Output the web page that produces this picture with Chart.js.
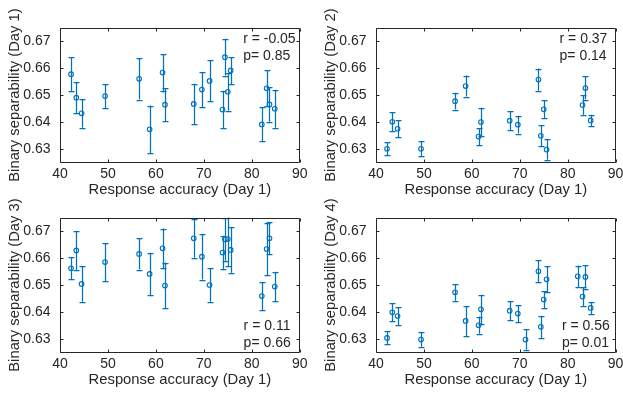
<!DOCTYPE html>
<html><head><meta charset="utf-8">
<script src="https://cdn.jsdelivr.net/npm/chart.js@4/dist/chart.umd.min.js"></script>
<style>
html,body{margin:0;padding:0;background:#fff;}
#wrap{position:relative;width:623px;height:393px;overflow:hidden;background:#fff;}
canvas{position:absolute;}
</style></head><body>
<div id="wrap">
<canvas id="c1"></canvas><canvas id="c2"></canvas><canvas id="c3"></canvas><canvas id="c4"></canvas>
</div>
<script>
// ---- data ----
const accuracy = [42.3, 43.4, 44.5, 49.4, 56.5, 58.7, 61.4, 61.9, 67.9, 69.6, 71.2, 73.9, 74.4, 75.0, 75.6, 82.1, 83.1, 83.7, 84.8];
const sepDay1 = [0.6577, 0.6490, 0.6432, 0.6496, 0.6560, 0.6373, 0.6583, 0.6464, 0.6467, 0.6520, 0.6552, 0.6446, 0.6640, 0.6512, 0.6591, 0.6391, 0.6525, 0.6465, 0.6449];
const errDay1 = [0.0063, 0.0057, 0.0053, 0.0044, 0.0077, 0.0088, 0.0068, 0.0062, 0.0075, 0.0065, 0.0076, 0.0070, 0.0068, 0.0070, 0.0050, 0.0063, 0.0066, 0.0064, 0.0070];
const sepDay2 = [0.6301, 0.6401, 0.6375, 0.6301, 0.6477, 0.6533, 0.6346, 0.6400, 0.6405, 0.6390, null, 0.6557, 0.6349, 0.6447, 0.6298, null, 0.6463, 0.6526, 0.6406];
const errDay2 = [0.0025, 0.0035, 0.0032, 0.0027, 0.0031, 0.0039, 0.0032, 0.0053, 0.0035, 0.0033, null, 0.0041, 0.0039, 0.0033, 0.0038, null, 0.0036, 0.0043, 0.0021];
const sepDay3 = [0.6562, 0.6628, 0.6504, 0.6585, 0.6615, 0.6541, 0.6636, 0.6498, 0.6673, 0.6605, 0.6500, 0.6620, 0.6669, 0.6670, 0.6630, 0.6459, 0.6633, 0.6673, 0.6494];
const errDay3 = [0.0040, 0.0073, 0.0066, 0.0070, 0.0058, 0.0078, 0.0073, 0.0085, 0.0072, 0.0085, 0.0062, 0.0062, 0.0079, 0.0101, 0.0085, 0.0052, 0.0096, 0.0059, 0.0055];
const sepDay4 = [0.6304, 0.6399, 0.6385, 0.6298, 0.6473, 0.6367, 0.6351, 0.6410, 0.6405, 0.6394, 0.6298, 0.6551, 0.6345, 0.6446, 0.6521, 0.6532, 0.6457, 0.6530, 0.6415];
const errDay4 = [0.0024, 0.0034, 0.0033, 0.0027, 0.0031, 0.0056, 0.0032, 0.0054, 0.0036, 0.0032, 0.0038, 0.0041, 0.0041, 0.0032, 0.0048, 0.0040, 0.0036, 0.0043, 0.0022];
const xTicks = [40, 50, 60, 70, 80, 90];
const xTickLabels = ['40', '50', '60', '70', '80', '90'];
const yTicks = [0.63, 0.64, 0.65, 0.66, 0.67];
const yTickLabels = ['0.63', '0.64', '0.65', '0.66', '0.67'];
const xTitle = 'Response accuracy (Day 1)';
const yTitles = ['Binary separability (Day 1)', 'Binary separability (Day 2)', 'Binary separability (Day 3)', 'Binary separability (Day 4)'];
const statR = ['r = -0.05', 'r = 0.37', 'r = 0.11', 'r = 0.56'];
const statP = ['p= 0.85', 'p= 0.14', 'p= 0.66', 'p= 0.01'];

// ---- style / layout ----
const BLUE = '#0072BD';
const TEXT = '#262626';
const FONT = '"Liberation Sans", Arial, Helvetica, sans-serif';
const panels = [
  {id:'c1', left:0,   top:0,   w:311, h:200, yAxisW:60, padTop:27.5, padRight:11.3, xAxisH:37.5, xTitlePad:1.1, yTitlePad:6.4,  stat:[78.2, 0.6706, 0.6644]},
  {id:'c2', left:310, top:0,   w:313, h:200, yAxisW:66, padTop:27.5, padRight:7.4,  xAxisH:37.5, xTitlePad:1.1, yTitlePad:12.4, stat:[78.3, 0.6706, 0.6644]},
  {id:'c3', left:0,   top:190, w:311, h:203, yAxisW:60, padTop:27.5, padRight:11.3, xAxisH:40.5, xTitlePad:4.4, yTitlePad:6.4,  stat:[78.3, 0.6346, 0.6286]},
  {id:'c4', left:310, top:190, w:313, h:203, yAxisW:66, padTop:27.5, padRight:7.4,  xAxisH:40.5, xTitlePad:4.4, yTitlePad:12.4, stat:[78.8, 0.6346, 0.6286]}
];
const seps = [sepDay1, sepDay2, sepDay3, sepDay4];
const errs = [errDay1, errDay2, errDay3, errDay4];

const decorPlugin = {
  id: 'decor',
  beforeDatasetsDraw(chart) {
    const ctx = chart.ctx, ca = chart.chartArea;
    const xs = chart.scales.x, ys = chart.scales.y;
    const ds = chart.data.datasets[0];
    ctx.save();
    ctx.beginPath();
    ctx.rect(ca.left, ca.top, ca.right - ca.left, ca.bottom - ca.top);
    ctx.clip();
    ctx.strokeStyle = BLUE;
    ctx.lineWidth = 1.25;
    ds.data.forEach((p, i) => {
      const e = ds.errors[i];
      const px = Math.round(xs.getPixelForValue(p.x)) + 0.5;
      const y1 = ys.getPixelForValue(p.y + e);
      const y2 = ys.getPixelForValue(p.y - e);
      ctx.beginPath();
      ctx.moveTo(px, y1); ctx.lineTo(px, y2);
      ctx.moveTo(px - 3, Math.round(y1) + 0.5); ctx.lineTo(px + 3, Math.round(y1) + 0.5);
      ctx.moveTo(px - 3, Math.round(y2) + 0.5); ctx.lineTo(px + 3, Math.round(y2) + 0.5);
      ctx.stroke();
    });
    ctx.restore();
  },
  afterDraw(chart, args, opts) {
    const ctx = chart.ctx, ca = chart.chartArea;
    const xs = chart.scales.x, ys = chart.scales.y;
    const L = Math.round(ca.left) + 0.5, R = Math.round(ca.right) - 0.5;
    const T = Math.round(ca.top) + 0.5, B = Math.round(ca.bottom) - 0.5;
    ctx.save();
    ctx.strokeStyle = TEXT;
    ctx.lineWidth = 1;
    ctx.beginPath();
    ctx.rect(L, T, R - L, B - T);
    const tl = 3;
    xTicks.forEach(v => {
      const px = Math.round(xs.getPixelForValue(v)) + 0.5;
      ctx.moveTo(px, B); ctx.lineTo(px, B - tl);
      ctx.moveTo(px, T); ctx.lineTo(px, T + tl);
    });
    yTicks.forEach(v => {
      const py = Math.round(ys.getPixelForValue(v)) + 0.5;
      ctx.moveTo(L, py); ctx.lineTo(L + tl, py);
      ctx.moveTo(R, py); ctx.lineTo(R - tl, py);
    });
    ctx.stroke();
    // statistics text
    const s = opts.stat;
    ctx.fillStyle = TEXT;
    ctx.font = '14px ' + FONT;
    ctx.textAlign = 'left';
    ctx.textBaseline = 'middle';
    const sx = xs.getPixelForValue(s.pos[0]);
    ctx.fillText(s.r, sx, ys.getPixelForValue(s.pos[1]));
    ctx.fillText(s.p, sx, ys.getPixelForValue(s.pos[2]));
    ctx.restore();
  }
};

panels.forEach((pn, k) => {
  const cv = document.getElementById(pn.id);
  cv.width = pn.w; cv.height = pn.h;
  cv.style.left = pn.left + 'px'; cv.style.top = pn.top + 'px';
  cv.style.width = pn.w + 'px'; cv.style.height = pn.h + 'px';
  const pts = [], es = [];
  accuracy.forEach((x, i) => {
    if (seps[k][i] !== null) { pts.push({x: x, y: seps[k][i]}); es.push(errs[k][i]); }
  });
  new Chart(cv, {
    type: 'scatter',
    data: {datasets: [{
      data: pts, errors: es,
      pointRadius: 2.3, pointHoverRadius: 2.3, pointBorderWidth: 1.1,
      borderColor: BLUE, pointBorderColor: BLUE,
      backgroundColor: 'rgba(0,0,0,0)', pointBackgroundColor: 'rgba(0,0,0,0)',
      clip: false
    }]},
    options: {
      responsive: false, animation: false, events: [],
      devicePixelRatio: 1,
      layout: {padding: {left: 0, top: pn.padTop, right: pn.padRight, bottom: 0}},
      plugins: {legend: {display: false}, tooltip: {enabled: false},
        decor: {stat: {r: statR[k], p: statP[k], pos: pn.stat}}},
      scales: {
        x: {
          type: 'linear', position: 'bottom', min: 40, max: 90,
          afterBuildTicks: s => { s.ticks = xTicks.map(v => ({value: v})); },
          afterFit: s => { s.height = pn.xAxisH; s.paddingLeft = 0; s.paddingRight = 0; },
          grid: {display: false, drawTicks: false},
          border: {display: false},
          ticks: {padding: 3, color: TEXT, font: {family: FONT, size: 14}, maxRotation: 0, autoSkip: false,
                  callback: (v, i) => xTickLabels[i]},
          title: {display: true, text: xTitle, color: TEXT, font: {family: FONT, size: 14.8},
                  padding: {top: 0, bottom: pn.xTitlePad}}
        },
        y: {
          type: 'linear', position: 'left', min: 0.625, max: 0.675,
          afterBuildTicks: s => { s.ticks = yTicks.map(v => ({value: v})); },
          afterFit: s => { s.width = pn.yAxisW; s.paddingTop = 0; s.paddingBottom = 0; },
          grid: {display: false, drawTicks: false},
          border: {display: false},
          ticks: {padding: 9.5, color: TEXT, font: {family: FONT, size: 14}, autoSkip: false,
                  callback: (v, i) => yTickLabels[i]},
          title: {display: true, text: yTitles[k], color: TEXT, font: {family: FONT, size: 14.8},
                  padding: {top: pn.yTitlePad, bottom: 0}}
        }
      }
    },
    plugins: [decorPlugin]
  });
});
</script>
</body></html>
